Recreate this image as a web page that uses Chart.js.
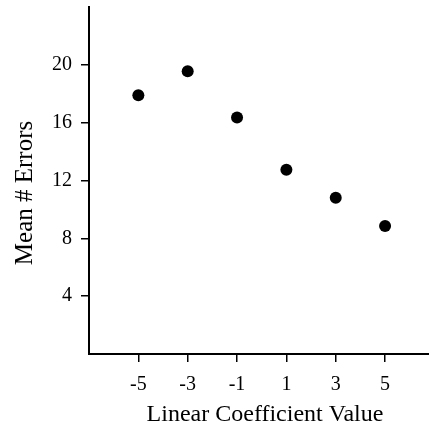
<!DOCTYPE html>
<html>
<head>
<meta charset="utf-8">
<script src="https://cdn.jsdelivr.net/npm/chart.js@4"></script>
<style>
html,body{margin:0;padding:0;background:#fff;overflow:hidden;}
#wrap{position:relative;width:429px;height:432px;}
canvas{display:block;}
</style>
</head>
<body>
<div id="wrap"><canvas id="c"></canvas></div>
<script>
const categories = [-5, -3, -1, 1, 3, 5];
const meanErrors = [17.9, 19.55, 16.35, 12.75, 10.8, 8.85];
const xTickValues = [-5, -3, -1, 1, 3, 5];
const yTickValues = [4, 8, 12, 16, 20];

const points = categories.map((x, i) => ({x: x, y: meanErrors[i]}));
const fontFamily = "'Liberation Serif', 'DejaVu Serif', serif";

new Chart(document.getElementById('c'), {
  type: 'scatter',
  data: {
    datasets: [{
      data: points,
      backgroundColor: '#000',
      borderColor: '#000',
      borderWidth: 0,
      pointRadius: 6,
      pointHoverRadius: 6
    }]
  },
  options: {
    responsive: true,
    maintainAspectRatio: false,
    animation: false,
    layout: {autoPadding: false, padding: {top: 7, right: 0, left: 0, bottom: 0}},
    plugins: {legend: {display: false}, tooltip: {enabled: false}},
    scales: {
      x: {
        type: 'linear',
        min: -7,
        max: 6.78,
        afterBuildTicks: s => { s.ticks = xTickValues.map(v => ({value: v})); },
        afterFit: s => { s.height = 78; s.paddingLeft = 0; s.paddingRight = 0; },
        border: {display: true, color: '#000', width: 2},
        grid: {drawOnChartArea: false, drawTicks: true, tickLength: 8, color: '#000', lineWidth: 1.5},
        ticks: {color: '#000', padding: 11, font: {family: fontFamily, size: 20}, callback: v => String(v)},
        title: {display: true, text: '  Linear Coefficient Value', color: '#000',
                font: {family: fontFamily, size: 24}, padding: {top: 0, bottom: 3}}
      },
      y: {
        type: 'linear',
        min: 0,
        max: 24,
        afterBuildTicks: s => { s.ticks = yTickValues.map(v => ({value: v})); },
        afterFit: s => { s.width = 89; s.paddingTop = 0; s.paddingBottom = 0; },
        border: {display: true, color: '#000', width: 2},
        grid: {drawOnChartArea: false, drawTicks: true, tickLength: 8, color: '#000', lineWidth: 1.5},
        ticks: {color: '#000', padding: 9, font: {family: fontFamily, size: 20}, callback: v => String(v)},
        title: {display: true, text: 'Mean # Errors    ', color: '#000',
                font: {family: fontFamily, size: 25}, padding: {top: 10, bottom: 0}}
      }
    }
  }
});
</script>
</body>
</html>
